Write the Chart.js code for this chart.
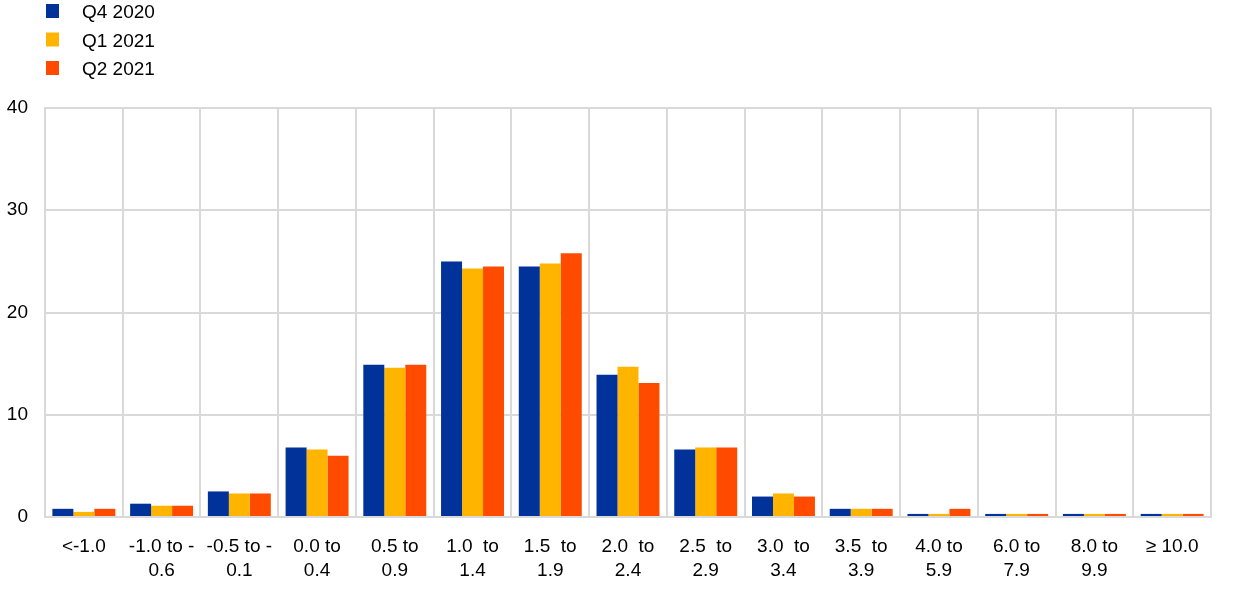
<!DOCTYPE html>
<html>
<head>
<meta charset="utf-8">
<script src="https://cdn.jsdelivr.net/npm/chart.js@4.4.0/dist/chart.umd.min.js"></script>
<style>
  html, body { margin: 0; padding: 0; background: #fff; }
  #wrap { width: 1240px; height: 589px; position: relative; }
</style>
</head>
<body>
<div id="wrap"><canvas id="chart"></canvas></div>
<script>
const categories = [
  '<-1.0', ['-1.0 to -', '0.6'], ['-0.5 to -', '0.1'], ['0.0 to', '0.4'], ['0.5 to', '0.9'],
  ['1.0  to', '1.4'], ['1.5  to', '1.9'], ['2.0  to', '2.4'], ['2.5  to', '2.9'], ['3.0  to', '3.4'],
  ['3.5  to', '3.9'], ['4.0 to', '5.9'], ['6.0 to', '7.9'], ['8.0 to', '9.9'], '≥ 10.0'
];
const q4_2020 = [0.8, 1.3, 2.5, 6.8, 14.9, 25.0, 24.5, 13.9, 6.6, 2.0, 0.8, 0.3, 0.3, 0.3, 0.3];
const q1_2021 = [0.5, 1.1, 2.3, 6.6, 14.6, 24.3, 24.8, 14.7, 6.8, 2.3, 0.8, 0.3, 0.3, 0.3, 0.3];
const q2_2021 = [0.8, 1.1, 2.3, 6.0, 14.9, 24.5, 25.8, 13.1, 6.8, 2.0, 0.8, 0.8, 0.3, 0.3, 0.3];
const yTicks = [0, 10, 20, 30, 40];

const FONT = '"Liberation Sans", Arial, sans-serif';

// legend drawn top-left as a vertical list
const stackedLegend = {
  id: 'stackedLegend',
  afterDraw(chart) {
    const ctx = chart.ctx;
    ctx.save();
    ctx.font = '19px ' + FONT;
    ctx.textBaseline = 'middle';
    chart.data.datasets.forEach((ds, i) => {
      const y = 11 + i * 28.5;
      ctx.fillStyle = ds.backgroundColor;
      ctx.fillRect(46, y - 7, 13, 14);
      ctx.fillStyle = '#000';
      ctx.fillText(ds.label, 82, y + 2);
    });
    ctx.restore();
  }
};

new Chart(document.getElementById('chart'), {
  type: 'bar',
  data: {
    labels: categories,
    datasets: [
      { label: 'Q4 2020', data: q4_2020, backgroundColor: '#003299' },
      { label: 'Q1 2021', data: q1_2021, backgroundColor: '#FFB400' },
      { label: 'Q2 2021', data: q2_2021, backgroundColor: '#FF4B00' }
    ]
  },
  options: {
    responsive: true,
    maintainAspectRatio: false,
    animation: false,
    layout: { padding: { top: 108, left: 6, right: 29, bottom: 0 } },
    datasets: { bar: { categoryPercentage: 0.81, barPercentage: 1.0 } },
    plugins: { legend: { display: false }, tooltip: { enabled: false } },
    scales: {
      x: {
        afterFit: axis => { axis.height = 72; },
        grid: { color: '#d9d9d9', lineWidth: 2, drawTicks: false, offset: true },
        border: { color: '#d9d9d9', width: 2 },
        ticks: { color: '#000', font: { family: FONT, size: 19, lineHeight: 1.3 }, padding: 17, maxRotation: 0, autoSkip: false }
      },
      y: {
        min: 0,
        max: 40,
        afterBuildTicks: axis => { axis.ticks = yTicks.map(v => ({ value: v })); },
        afterFit: axis => { axis.width = 39; },
        grid: { color: '#d9d9d9', lineWidth: 2, drawTicks: false },
        border: { color: '#d9d9d9', width: 2 },
        ticks: { color: '#000', font: { family: FONT, size: 19 }, padding: 17 }
      }
    }
  },
  plugins: [stackedLegend]
});
</script>
</body>
</html>
